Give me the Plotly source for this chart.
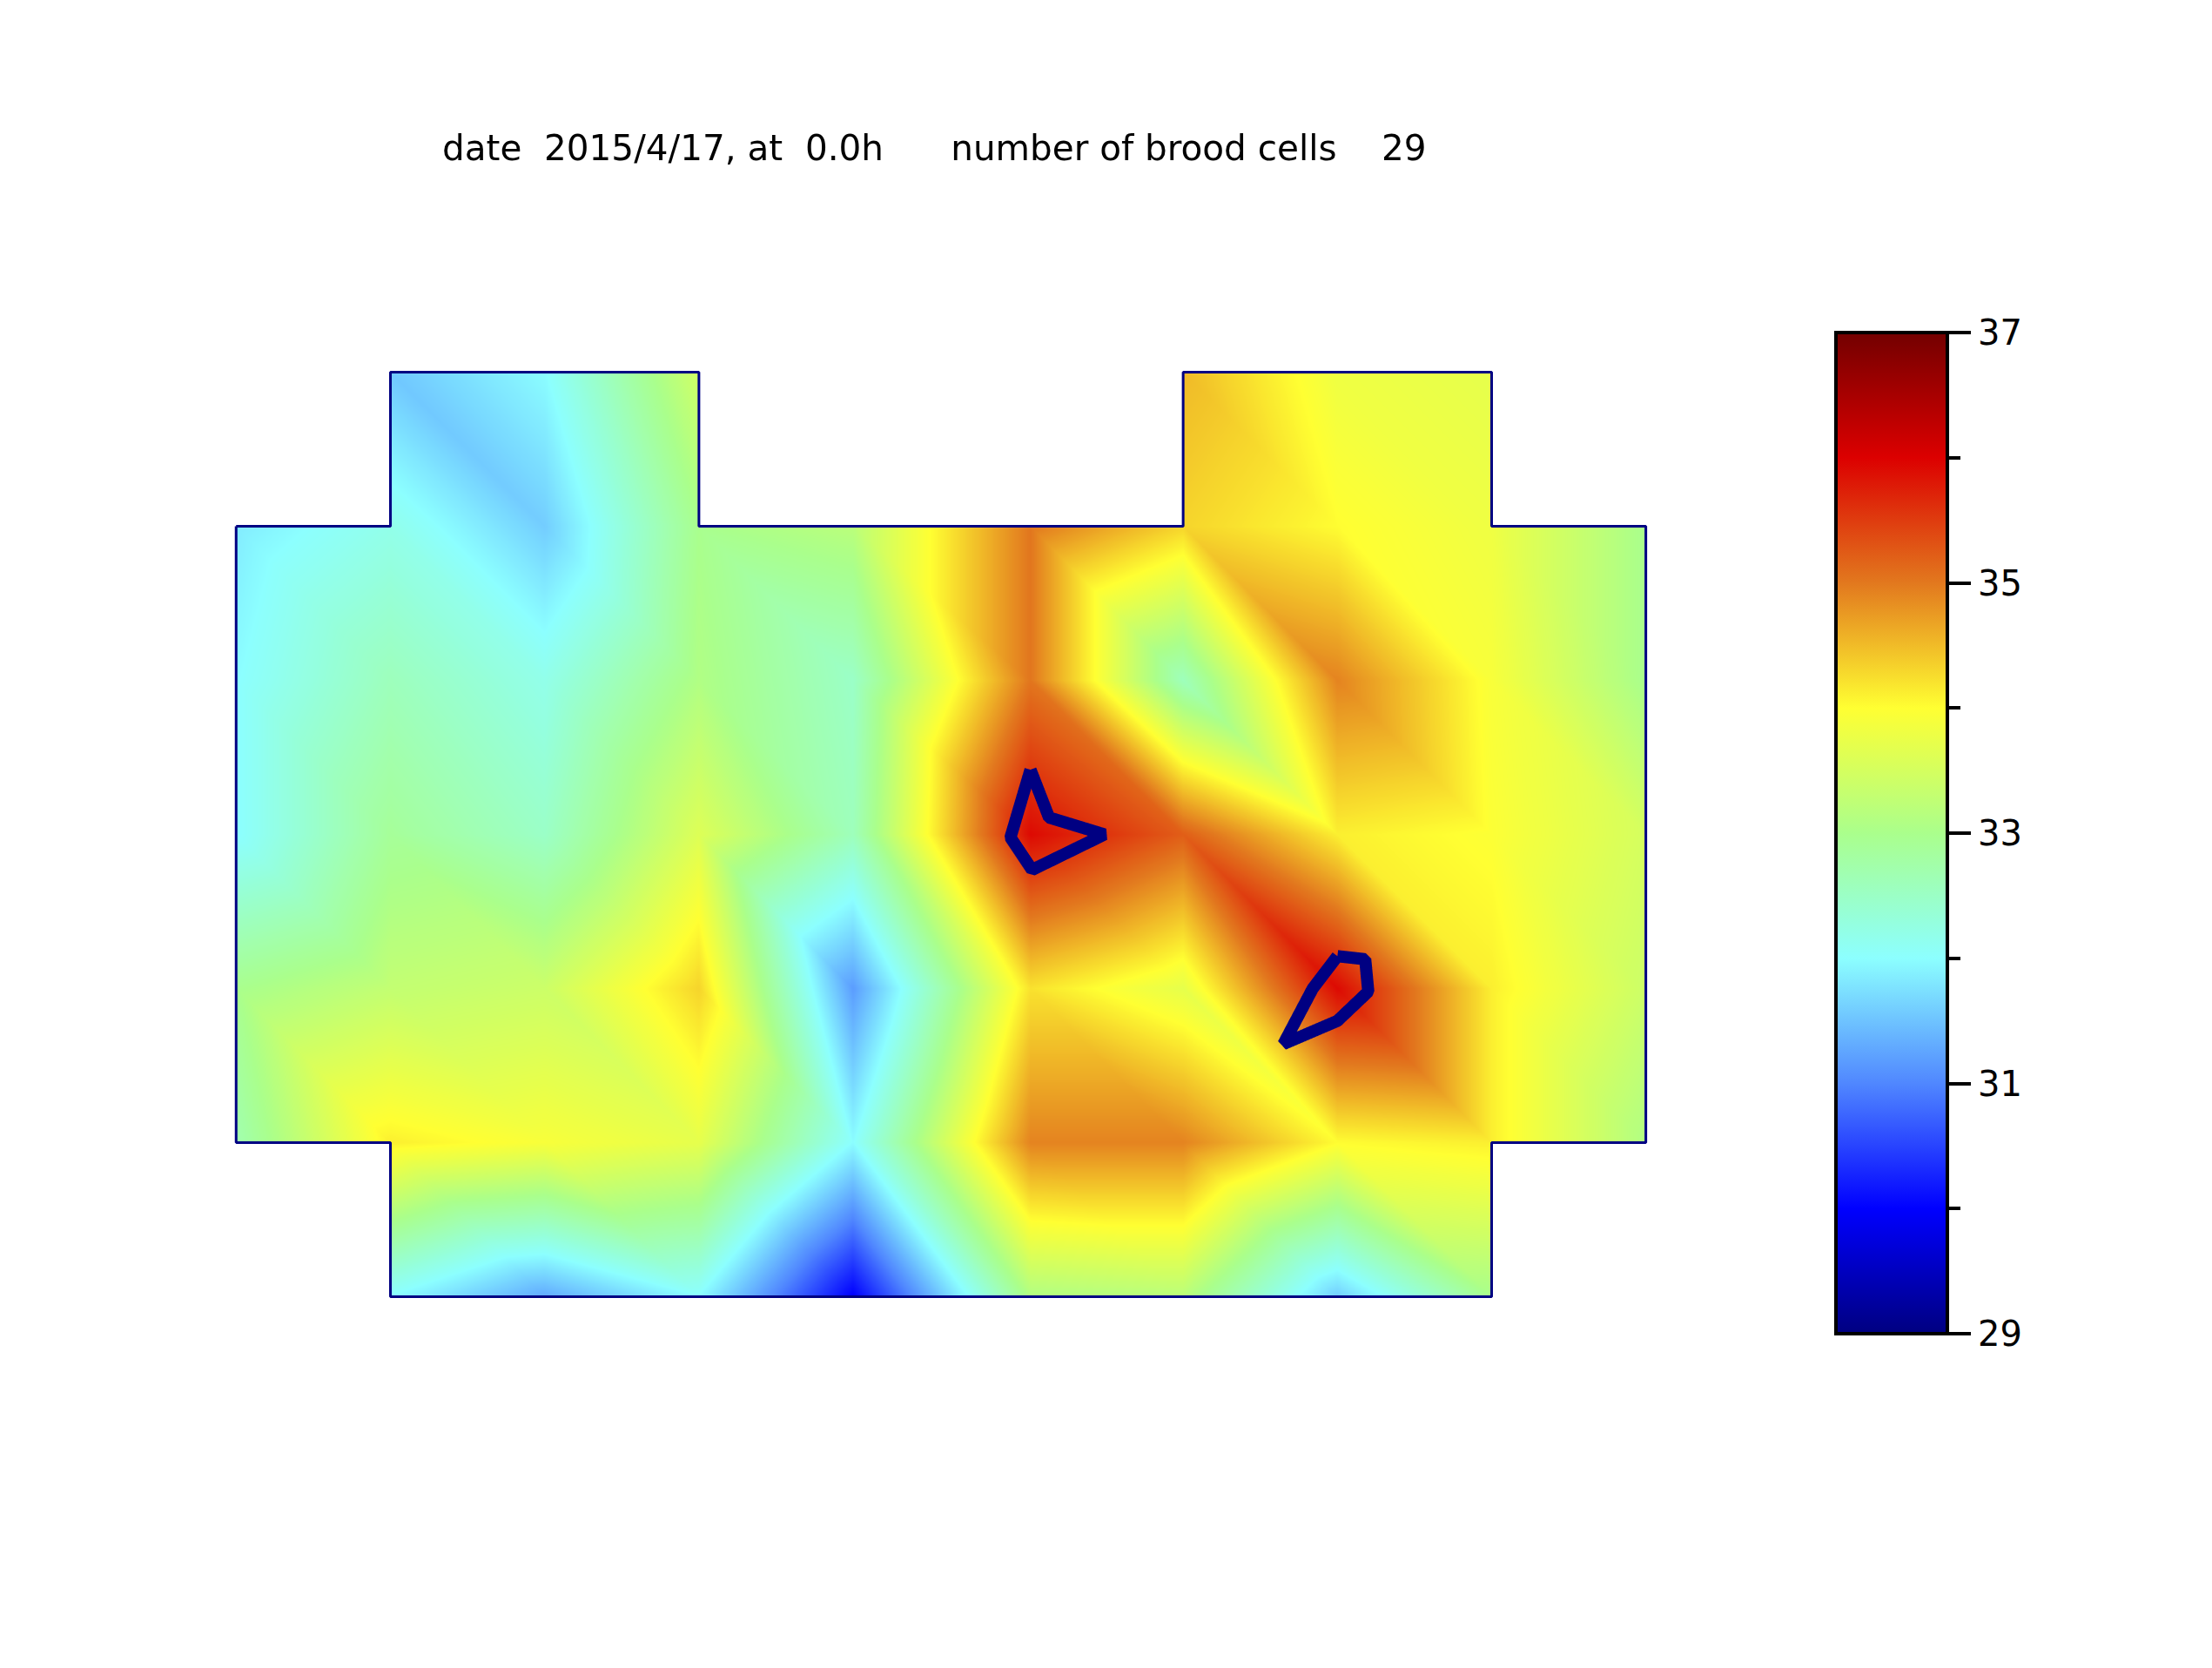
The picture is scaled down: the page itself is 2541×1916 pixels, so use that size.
import plotly.graph_objects as go

W, H = 2541, 1916

# grid node positions (arbitrary hive units)
x_nodes = [0, 1, 2, 3, 4, 5.15, 6.14, 7.14, 8.14, 9.14]
y_nodes = [6, 5, 4, 3, 2, 1, 0]

N = None
temp_r0 = [N, 31.55, 32.0, 33.45, N, N, 34.5, 33.8, 33.7, N]
temp_r1 = [31.85, 32.2, 31.6, 33.0, 33.2, 35.0, 34.3, 34.0, 33.8, 33.0]
temp_r2 = [32.0, 32.6, 32.2, 33.1, 32.5, 35.0, 32.6, 34.9, 33.9, 33.0]
temp_r3 = [32.0, 32.9, 32.5, 33.6, 32.6, 35.9, 35.2, 34.1, 33.95, 33.5]
temp_r4 = [33.0, 33.3, 33.4, 34.3, 31.2, 34.2, 33.7, 35.9, 34.1, 33.4]
temp_r5 = [32.7, 34.1, 33.9, 33.7, 32.0, 34.9, 34.9, 34.0, 34.1, 33.1]
temp_r6 = [N, 32.0, 31.3, 32.0, 30.0, 33.1, 33.2, 31.6, 33.0, N]
temps = [temp_r0, temp_r1, temp_r2, temp_r3, temp_r4, temp_r5, temp_r6]

outline_x = [0, 1, 1, 3, 3, 6.14, 6.14, 8.14, 8.14, 9.14, 9.14, 8.14, 8.14, 1, 1, 0, 0]
outline_y = [5, 5, 6, 6, 5, 5, 6, 6, 5, 5, 1, 1, 0, 0, 1, 1, 5]

brood1_x = [5.15, 5.27, 5.63, 5.16, 5.02, 5.15]
brood1_y = [3.42, 3.11, 3.0, 2.77, 2.98, 3.42]
brood2_x = [7.14, 7.32, 7.34, 7.14, 6.79, 6.98, 7.14]
brood2_y = [2.21, 2.19, 1.98, 1.79, 1.64, 2.0, 2.21]

cbar_ticks = [29, 31, 33, 35, 37]
scale_colors = [
    (29, "rgb(0,0,128)"), (30, "rgb(0,0,255)"), (31, "rgb(80,135,255)"),
    (32, "rgb(140,255,255)"), (33, "rgb(170,255,140)"), (34, "rgb(255,255,50)"),
    (35, "rgb(226,120,30)"), (36, "rgb(220,0,0)"), (37, "rgb(115,0,0)"),
]
title_text = ("date\u00a0\u00a02015/4/17,\u00a0at\u00a0\u00a00.0h\u00a0\u00a0\u00a0\u00a0\u00a0\u00a0"
              "number\u00a0of\u00a0brood\u00a0cells\u00a0\u00a0\u00a0\u00a029")

colorscale = [[(v - 29) / 8, c] for v, c in scale_colors]

# vertices and triangles (every cell split along its top-left to bottom-right diagonal)
vx, vy, vi, index = [], [], [], {}
for r, row in enumerate(temps):
    for c, t in enumerate(row):
        if t is not None:
            index[(r, c)] = len(vx)
            vx.append(x_nodes[c]); vy.append(y_nodes[r]); vi.append(t)
I, J, K = [], [], []
for r in range(len(y_nodes) - 1):
    for c in range(len(x_nodes) - 1):
        corners = [(r, c), (r, c + 1), (r + 1, c + 1), (r + 1, c)]
        if all(p in index for p in corners) and not (r == 0 and c in (3, 4, 5)):
            tl, tr, br, bl = [index[p] for p in corners]
            I += [tl, tl]; J += [tr, br]; K += [br, bl]

fig = go.Figure()
fig.add_trace(go.Mesh3d(
    x=vx, y=vy, z=[0] * len(vx), i=I, j=J, k=K, intensity=vi, intensitymode="vertex",
    colorscale=colorscale, cmin=29, cmax=37, flatshading=False,
    lighting=dict(ambient=1, diffuse=0, specular=0, roughness=1, fresnel=0),
    hoverinfo="skip",
    colorbar=dict(
        x=2109 / W, xanchor="left", xpad=0, y=(H - 1532) / H, yanchor="bottom", ypad=0,
        len=1150 / H, lenmode="fraction", thickness=128, thicknessmode="pixels",
        outlinewidth=4, outlinecolor="black", ticks="", showticklabels=False,
    ),
))
fig.add_trace(go.Scatter3d(x=outline_x, y=outline_y, z=[0.001] * len(outline_x), mode="lines",
                           line=dict(color="rgb(0,0,130)", width=6), hoverinfo="skip", showlegend=False))
for bx, by in ((brood1_x, brood1_y), (brood2_x, brood2_y)):
    fig.add_trace(go.Scatter3d(x=bx, y=by, z=[0.002] * len(bx), mode="lines",
                               line=dict(color="rgb(0,0,130)", width=28), hoverinfo="skip", showlegend=False))
# carrier for the colour bar's axis
fig.add_trace(go.Scatter(x=[0, 0], y=[29, 37], mode="lines", line=dict(width=0), hoverinfo="skip", showlegend=False))

hidden = dict(visible=False, showgrid=False, zeroline=False, showticklabels=False, title="")
ASPECT_Y = 1.472
fig.update_layout(
    width=W, height=H, margin=dict(l=0, r=0, t=0, b=0, autoexpand=False), paper_bgcolor="white", plot_bgcolor="rgba(0,0,0,0)",
    showlegend=False, font=dict(family="DejaVu Sans", color="black", size=40),
    scene=dict(
        domain=dict(x=[0, 2162 / W], y=[0.1, 0.9]),
        xaxis=hidden, yaxis=hidden, zaxis=hidden,
        aspectmode="manual", aspectratio=dict(x=ASPECT_Y * 1618 / 1061, y=ASPECT_Y, z=0.05),
        camera=dict(eye=dict(x=0, y=0, z=1.02), center=dict(x=0, y=0, z=0), up=dict(x=0, y=1, z=0),
                    projection=dict(type="orthographic")),
        bgcolor="rgba(0,0,0,0)",
    ),
    xaxis=dict(visible=False, domain=[0.99, 1]),
    yaxis=dict(
        anchor="free", position=2238 / W, side="right", overlaying=None,
        domain=[(H - 1532) / H, (H - 382) / H], range=[29, 37], tickvals=cbar_ticks,
        ticks="outside", ticklen=25, tickwidth=4, tickcolor="black", showgrid=False, zeroline=False,
        showline=False, tickfont=dict(size=40, family="DejaVu Sans", color="black"),
        minor=dict(dtick=1, ticks="outside", ticklen=13, tickwidth=4, tickcolor="black", showgrid=False),
    ),
    annotations=[dict(text=title_text, x=506 / W, y=1 - 170 / H, xref="paper", yref="paper",
                      xanchor="left", yanchor="middle", showarrow=False,
                      font=dict(size=40.5, family="DejaVu Sans", color="black"))],
)
fig.write_html("out.html", config=dict(displayModeBar=False), post_script="document.body.style.margin='0';")
